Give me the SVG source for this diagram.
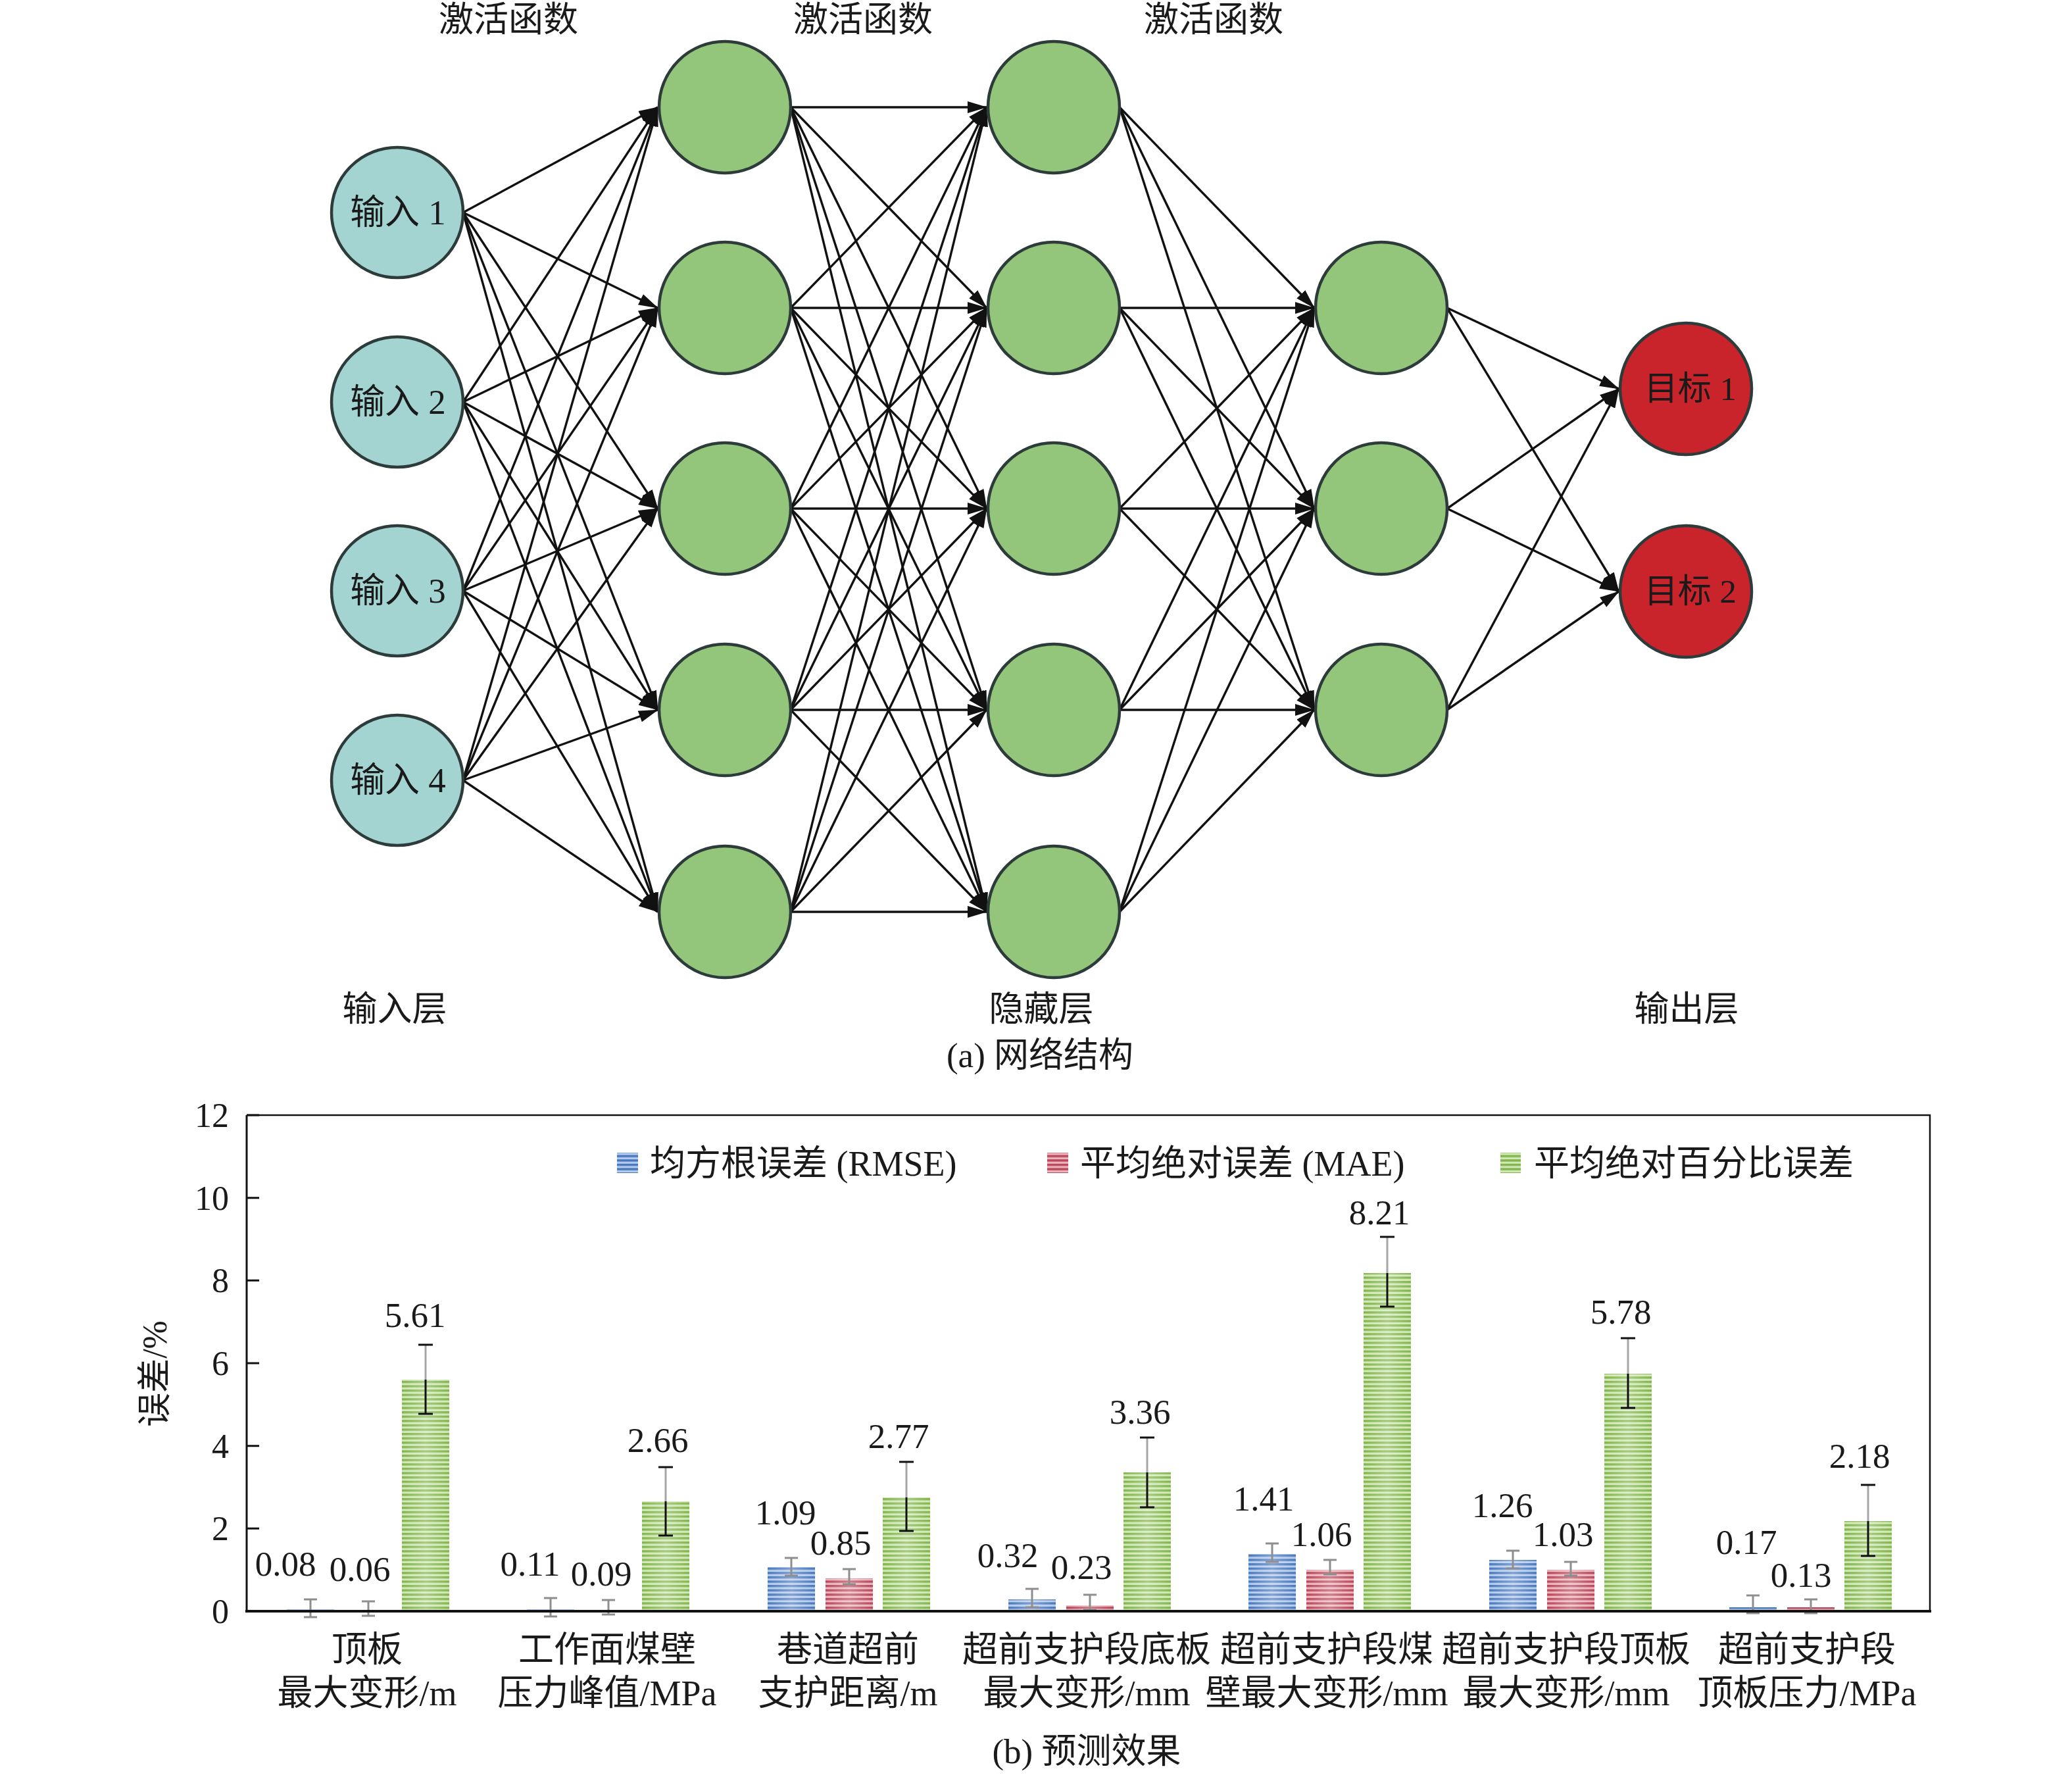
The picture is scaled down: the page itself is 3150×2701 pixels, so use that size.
<svg xmlns="http://www.w3.org/2000/svg" width="3150" height="2701" viewBox="0 0 3150 2701">
<style>
.t{font-family:"Liberation Serif","Noto Sans CJK SC",serif;fill:#1a1a1a}
.node{stroke:#2e3b3b;stroke-width:4.5}
.in{fill:#a3d4d2}.hid{fill:#93c67b}.out{fill:#c9242b}
.c line{stroke:#111;stroke-width:3.4;marker-end:url(#ah)}
.eg{stroke:#8e8e8e;stroke-width:3}
.ek{stroke:#111;stroke-width:3}
.ax{stroke:#111;fill:none}
</style>
<defs>
<marker id="ah" viewBox="0 0 30 18" refX="29" refY="9" markerWidth="30" markerHeight="18" markerUnits="userSpaceOnUse" orient="auto">
<path d="M0,0 L30,9 L0,18 z" fill="#111"/>
</marker>
<pattern id="pb" patternUnits="userSpaceOnUse" width="20" height="6.6"><rect width="20" height="6.6" fill="#b3cbec"/><rect width="20" height="3.4" fill="#4a78bd"/></pattern>
<pattern id="pr" patternUnits="userSpaceOnUse" width="20" height="6.6"><rect width="20" height="6.6" fill="#ecb3bc"/><rect width="20" height="3.4" fill="#b8485a"/></pattern>
<pattern id="pg" patternUnits="userSpaceOnUse" width="20" height="6.6"><rect width="20" height="6.6" fill="#d0e8b6"/><rect width="20" height="3.4" fill="#82b54b"/></pattern>
<linearGradient id="sh" x1="0" x2="1" y1="0" y2="0"><stop offset="0" stop-color="#fff" stop-opacity="0"/><stop offset="0.5" stop-color="#fff" stop-opacity="0.3"/><stop offset="1" stop-color="#fff" stop-opacity="0"/></linearGradient>
</defs>
<rect width="3150" height="2701" fill="#fff"/>

<!-- network connectors -->
<g id="connectors" class="c">
<line x1="704" y1="323" x2="1000" y2="163"/><line x1="704" y1="323" x2="1000" y2="468"/><line x1="704" y1="323" x2="1000" y2="773"/><line x1="704" y1="323" x2="1000" y2="1079"/><line x1="704" y1="323" x2="1000" y2="1386"/>
<line x1="704" y1="611" x2="1000" y2="163"/><line x1="704" y1="611" x2="1000" y2="468"/><line x1="704" y1="611" x2="1000" y2="773"/><line x1="704" y1="611" x2="1000" y2="1079"/><line x1="704" y1="611" x2="1000" y2="1386"/>
<line x1="704" y1="898" x2="1000" y2="163"/><line x1="704" y1="898" x2="1000" y2="468"/><line x1="704" y1="898" x2="1000" y2="773"/><line x1="704" y1="898" x2="1000" y2="1079"/><line x1="704" y1="898" x2="1000" y2="1386"/>
<line x1="704" y1="1186" x2="1000" y2="163"/><line x1="704" y1="1186" x2="1000" y2="468"/><line x1="704" y1="1186" x2="1000" y2="773"/><line x1="704" y1="1186" x2="1000" y2="1079"/><line x1="704" y1="1186" x2="1000" y2="1386"/>

<line x1="1202" y1="163" x2="1500" y2="163"/><line x1="1202" y1="163" x2="1500" y2="468"/><line x1="1202" y1="163" x2="1500" y2="773"/><line x1="1202" y1="163" x2="1500" y2="1079"/><line x1="1202" y1="163" x2="1500" y2="1386"/>
<line x1="1202" y1="468" x2="1500" y2="163"/><line x1="1202" y1="468" x2="1500" y2="468"/><line x1="1202" y1="468" x2="1500" y2="773"/><line x1="1202" y1="468" x2="1500" y2="1079"/><line x1="1202" y1="468" x2="1500" y2="1386"/>
<line x1="1202" y1="773" x2="1500" y2="163"/><line x1="1202" y1="773" x2="1500" y2="468"/><line x1="1202" y1="773" x2="1500" y2="773"/><line x1="1202" y1="773" x2="1500" y2="1079"/><line x1="1202" y1="773" x2="1500" y2="1386"/>
<line x1="1202" y1="1079" x2="1500" y2="163"/><line x1="1202" y1="1079" x2="1500" y2="468"/><line x1="1202" y1="1079" x2="1500" y2="773"/><line x1="1202" y1="1079" x2="1500" y2="1079"/><line x1="1202" y1="1079" x2="1500" y2="1386"/>
<line x1="1202" y1="1386" x2="1500" y2="163"/><line x1="1202" y1="1386" x2="1500" y2="468"/><line x1="1202" y1="1386" x2="1500" y2="773"/><line x1="1202" y1="1386" x2="1500" y2="1079"/><line x1="1202" y1="1386" x2="1500" y2="1386"/>

<line x1="1702" y1="163" x2="1998" y2="468"/><line x1="1702" y1="163" x2="1998" y2="773"/><line x1="1702" y1="163" x2="1998" y2="1079"/>
<line x1="1702" y1="468" x2="1998" y2="468"/><line x1="1702" y1="468" x2="1998" y2="773"/><line x1="1702" y1="468" x2="1998" y2="1079"/>
<line x1="1702" y1="773" x2="1998" y2="468"/><line x1="1702" y1="773" x2="1998" y2="773"/><line x1="1702" y1="773" x2="1998" y2="1079"/>
<line x1="1702" y1="1079" x2="1998" y2="468"/><line x1="1702" y1="1079" x2="1998" y2="773"/><line x1="1702" y1="1079" x2="1998" y2="1079"/>
<line x1="1702" y1="1386" x2="1998" y2="468"/><line x1="1702" y1="1386" x2="1998" y2="773"/><line x1="1702" y1="1386" x2="1998" y2="1079"/>

<line x1="2200" y1="468" x2="2461" y2="591"/><line x1="2200" y1="468" x2="2461" y2="899"/>
<line x1="2200" y1="773" x2="2461" y2="591"/><line x1="2200" y1="773" x2="2461" y2="899"/>
<line x1="2200" y1="1079" x2="2461" y2="591"/><line x1="2200" y1="1079" x2="2461" y2="899"/>
</g>

<!-- input nodes -->
<g id="in1"><ellipse class="node in" cx="604" cy="323" rx="100" ry="99"/><text class="t" x="605" y="341" font-size="53" text-anchor="middle">输入 1</text></g>
<g id="in2"><ellipse class="node in" cx="604" cy="611" rx="100" ry="99"/><text class="t" x="605" y="629" font-size="53" text-anchor="middle">输入 2</text></g>
<g id="in3"><ellipse class="node in" cx="604" cy="898" rx="100" ry="99"/><text class="t" x="605" y="916" font-size="53" text-anchor="middle">输入 3</text></g>
<g id="in4"><ellipse class="node in" cx="604" cy="1186" rx="100" ry="99"/><text class="t" x="605" y="1204" font-size="53" text-anchor="middle">输入 4</text></g>

<!-- hidden layer 1 -->
<g id="h1n1"><ellipse class="node hid" cx="1102" cy="163" rx="100" ry="100"/></g>
<g id="h1n2"><ellipse class="node hid" cx="1102" cy="468" rx="100" ry="100"/></g>
<g id="h1n3"><ellipse class="node hid" cx="1102" cy="773" rx="100" ry="100"/></g>
<g id="h1n4"><ellipse class="node hid" cx="1102" cy="1079" rx="100" ry="100"/></g>
<g id="h1n5"><ellipse class="node hid" cx="1102" cy="1386" rx="100" ry="100"/></g>
<!-- hidden layer 2 -->
<g id="h2n1"><ellipse class="node hid" cx="1602" cy="163" rx="100" ry="100"/></g>
<g id="h2n2"><ellipse class="node hid" cx="1602" cy="468" rx="100" ry="100"/></g>
<g id="h2n3"><ellipse class="node hid" cx="1602" cy="773" rx="100" ry="100"/></g>
<g id="h2n4"><ellipse class="node hid" cx="1602" cy="1079" rx="100" ry="100"/></g>
<g id="h2n5"><ellipse class="node hid" cx="1602" cy="1386" rx="100" ry="100"/></g>
<!-- hidden layer 3 -->
<g id="h3n1"><ellipse class="node hid" cx="2100" cy="468" rx="100" ry="100"/></g>
<g id="h3n2"><ellipse class="node hid" cx="2100" cy="773" rx="100" ry="100"/></g>
<g id="h3n3"><ellipse class="node hid" cx="2100" cy="1079" rx="100" ry="100"/></g>
<!-- outputs -->
<g id="out1"><ellipse class="node out" cx="2563" cy="591" rx="100" ry="100"/><text class="t" x="2570" y="608" font-size="51" text-anchor="middle">目标 1</text></g>
<g id="out2"><ellipse class="node out" cx="2563" cy="899" rx="100" ry="100"/><text class="t" x="2570" y="916" font-size="51" text-anchor="middle">目标 2</text></g>

<!-- network labels -->
<g id="netlabels" class="t" font-size="53" text-anchor="middle">
<text x="773" y="48">激活函数</text>
<text x="1312" y="48">激活函数</text>
<text x="1845" y="48">激活函数</text>
<text x="600" y="1552">输入层</text>
<text x="1583" y="1552">隐藏层</text>
<text x="2564" y="1552">输出层</text>
<text x="1581" y="1622">(a) 网络结构</text>
</g>

<!-- chart -->
<g id="chart">
<g id="bars">
<rect x="436" y="2446" width="72" height="3" fill="url(#pb)"/>
<rect x="524" y="2447" width="72" height="2" fill="url(#pr)"/>
<rect x="611" y="2097" width="72" height="352" fill="url(#pg)"/>
<rect x="801" y="2446" width="72" height="3" fill="url(#pb)"/>
<rect x="889" y="2447" width="72" height="2" fill="url(#pr)"/>
<rect x="976" y="2282" width="72" height="167" fill="url(#pg)"/>
<rect x="1167" y="2382" width="72" height="67" fill="url(#pb)"/>
<rect x="1255" y="2399" width="72" height="50" fill="url(#pr)"/>
<rect x="1342" y="2276" width="72" height="173" fill="url(#pg)"/>
<rect x="1533" y="2431" width="72" height="18" fill="url(#pb)"/>
<rect x="1621" y="2440" width="72" height="9" fill="url(#pr)"/>
<rect x="1708" y="2238" width="72" height="211" fill="url(#pg)"/>
<rect x="1898" y="2362" width="72" height="87" fill="url(#pb)"/>
<rect x="1986" y="2386" width="72" height="63" fill="url(#pr)"/>
<rect x="2073" y="1935" width="72" height="514" fill="url(#pg)"/>
<rect x="2264" y="2371" width="72" height="78" fill="url(#pb)"/>
<rect x="2352" y="2386" width="72" height="63" fill="url(#pr)"/>
<rect x="2439" y="2088" width="72" height="361" fill="url(#pg)"/>
<rect x="2629" y="2443" width="72" height="6" fill="url(#pb)"/>
<rect x="2717" y="2443" width="72" height="6" fill="url(#pr)"/>
<rect x="2804" y="2312" width="72" height="137" fill="url(#pg)"/>
<g fill="url(#sh)">
<rect x="611" y="2097" width="72" height="352"/><rect x="976" y="2282" width="72" height="167"/>
<rect x="1167" y="2382" width="72" height="67"/><rect x="1255" y="2399" width="72" height="50"/><rect x="1342" y="2276" width="72" height="173"/>
<rect x="1533" y="2431" width="72" height="18"/><rect x="1621" y="2440" width="72" height="9"/><rect x="1708" y="2238" width="72" height="211"/>
<rect x="1898" y="2362" width="72" height="87"/><rect x="1986" y="2386" width="72" height="63"/><rect x="2073" y="1935" width="72" height="514"/>
<rect x="2264" y="2371" width="72" height="78"/><rect x="2352" y="2386" width="72" height="63"/><rect x="2439" y="2088" width="72" height="361"/>
<rect x="2804" y="2312" width="72" height="137"/>
</g>
</g>

<g id="errorbars">
<g class="eg">
<path d="M472 2431V2458M462 2431H482M462 2458H482"/>
<path d="M560 2434V2456M550 2434H570M550 2456H570"/>
<path d="M837 2429V2457M827 2429H847M827 2457H847"/>
<path d="M925 2432V2454M915 2432H935M915 2454H935"/>
<path d="M1203 2368V2395M1193 2368H1213M1193 2395H1213"/>
<path d="M1291 2385V2408M1281 2385H1301M1281 2408H1301"/>
<path d="M1569 2415V2443M1559 2415H1579M1559 2443H1579"/>
<path d="M1657 2424V2447M1647 2424H1667M1647 2447H1667"/>
<path d="M1934 2346V2374M1924 2346H1944M1924 2374H1944"/>
<path d="M2022 2371V2393M2012 2371H2032M2012 2393H2032"/>
<path d="M2300 2357V2384M2290 2357H2310M2290 2384H2310"/>
<path d="M2388 2374V2395M2378 2374H2398M2378 2395H2398"/>
<path d="M2665 2425V2452M2655 2425H2675M2655 2452H2675"/>
<path d="M2753 2431V2452M2743 2431H2763M2743 2452H2763"/>
</g>
<g stroke="#a6a6a6" stroke-width="3">
<path d="M647 2044V2097"/><path d="M1012 2230V2282"/><path d="M1378 2222V2276"/><path d="M1744 2185V2238"/><path d="M2109 1880V1935"/><path d="M2475 2034V2088"/><path d="M2840 2257V2312"/>
</g>
<g class="ek">
<path d="M647 2097V2149M636 2044H658M636 2149H658"/>
<path d="M1012 2282V2334M1001 2230H1023M1001 2334H1023"/>
<path d="M1378 2276V2327M1367 2222H1389M1367 2327H1389"/>
<path d="M1744 2238V2291M1733 2185H1755M1733 2291H1755"/>
<path d="M2109 1935V1986M2098 1880H2120M2098 1986H2120"/>
<path d="M2475 2088V2140M2464 2034H2486M2464 2140H2486"/>
<path d="M2840 2312V2365M2829 2257H2851M2829 2365H2851"/>
</g>
</g>

<g id="axes">
<path class="ax" stroke-width="2.5" d="M375 1695H2934V2449"/>
<path class="ax" stroke-width="3" d="M375 1695V2449"/>
<path class="ax" stroke-width="4" d="M373 2449H2936"/>
<path class="ax" stroke-width="3" d="M375 1695H394M375 1820.7H394M375 1946.3H394M375 2072H394M375 2197.7H394M375 2323.3H394"/>
</g>

<g id="ticklabels" class="t" font-size="52" text-anchor="end">
<text x="348" y="1713">12</text>
<text x="348" y="1839">10</text>
<text x="348" y="1964">8</text>
<text x="348" y="2090">6</text>
<text x="348" y="2216">4</text>
<text x="348" y="2341">2</text>
<text x="348" y="2467">0</text>
</g>

<text class="t" font-size="52" text-anchor="middle" transform="translate(253,2088) rotate(-90)">误差/%</text>

<g id="values" class="t" font-size="53" text-anchor="middle">
<text x="434" y="2395">0.08</text><text x="547" y="2403">0.06</text><text x="631" y="2017">5.61</text>
<text x="806" y="2395">0.11</text><text x="914" y="2410">0.09</text><text x="1000" y="2207">2.66</text>
<text x="1194" y="2317">1.09</text><text x="1278" y="2363">0.85</text><text x="1366" y="2201">2.77</text>
<text x="1532" y="2382">0.32</text><text x="1644" y="2400">0.23</text><text x="1733" y="2164">3.36</text>
<text x="1921" y="2296">1.41</text><text x="2009" y="2350">1.06</text><text x="2097" y="1861">8.21</text>
<text x="2284" y="2306">1.26</text><text x="2376" y="2350">1.03</text><text x="2464" y="2012">5.78</text>
<text x="2655" y="2362">0.17</text><text x="2738" y="2412">0.13</text><text x="2827" y="2231">2.18</text>
</g>

<g id="legend">
<rect x="938" y="1752" width="32" height="31" fill="url(#pb)"/>
<rect x="1592" y="1752" width="32" height="31" fill="url(#pr)"/>
<rect x="2281" y="1752" width="31" height="31" fill="url(#pg)"/>
<g class="t" font-size="54">
<text x="988" y="1787">均方根误差 (RMSE)</text>
<text x="1642" y="1787">平均绝对误差 (MAE)</text>
<text x="2332" y="1787">平均绝对百分比误差</text>
</g>
</g>

<g id="xlabels" class="t" font-size="54" text-anchor="middle">
<text x="558" y="2526">顶板</text><text x="558" y="2592">最大变形/m</text>
<text x="923" y="2526">工作面煤壁</text><text x="923" y="2592">压力峰值/MPa</text>
<text x="1289" y="2526">巷道超前</text><text x="1289" y="2592">支护距离/m</text>
<text x="1652" y="2526">超前支护段底板</text><text x="1652" y="2592">最大变形/mm</text>
<text x="2017" y="2526">超前支护段煤</text><text x="2017" y="2592">壁最大变形/mm</text>
<text x="2381" y="2526">超前支护段顶板</text><text x="2381" y="2592">最大变形/mm</text>
<text x="2747" y="2526">超前支护段</text><text x="2747" y="2592">顶板压力/MPa</text>
</g>

<text class="t" font-size="53" x="1652" y="2680" text-anchor="middle">(b) 预测效果</text>
</g>
</svg>
